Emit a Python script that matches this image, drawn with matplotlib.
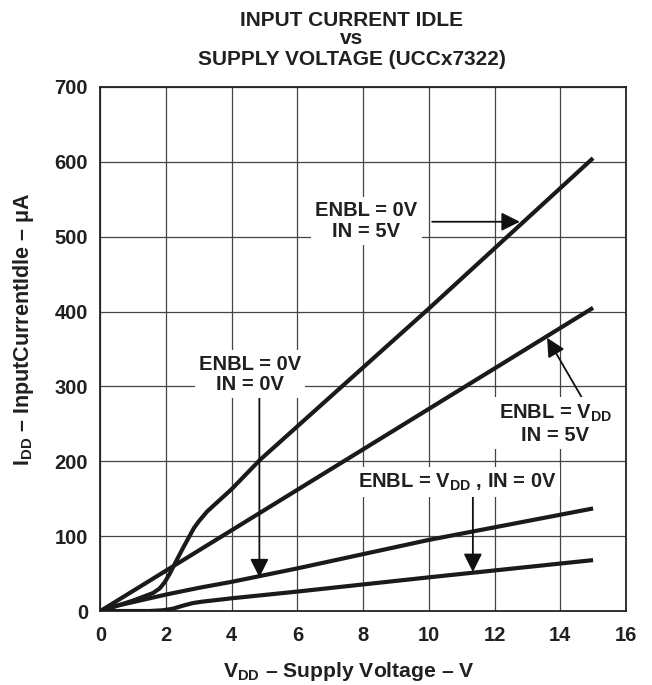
import numpy as np
import matplotlib
matplotlib.use('Agg')
import matplotlib.pyplot as plt

# curves (VDD in V, IDD in uA)
vdd_a = [0, 0.5, 1.0, 1.3, 1.6, 1.8, 1.95, 2.1, 2.3, 2.5, 2.7, 2.85, 3.0, 3.25, 3.5, 4.0, 4.86, 10.0, 15.0]
idd_a = [0, 7, 14, 19, 24, 30, 38, 49, 66, 83, 99, 111, 120, 133, 143, 163, 202, 404, 605]   # ENBL=0V, IN=5V

vdd_b = [0, 15.0]
idd_b = [0, 405]                                                      # ENBL=VDD, IN=5V

vdd_c = [0, 0.5, 1.0, 1.5, 2.0, 3.0, 4.0, 6.0, 10.0, 15.0]
idd_c = [0, 7, 12, 17, 22, 31, 39, 57, 95, 137]                       # ENBL=0V, IN=0V

vdd_d = [0, 1.5, 1.9, 2.2, 2.5, 2.8, 3.1, 3.5, 4.0, 6.0, 10.0, 15.0]
idd_d = [0, 0, 1, 3, 7, 10.5, 12.5, 14.5, 17, 26, 45, 68]             # ENBL=VDD, IN=0V

xticks = np.arange(0, 17, 2)
yticks = np.arange(0, 701, 100)
title_lines = ['INPUT CURRENT IDLE', 'vs', 'SUPPLY VOLTAGE (UCCx7322)']

txt = '#231f20'
fs = 14.5
plt.rcParams['font.family'] = ['Liberation Sans', 'DejaVu Sans']
plt.rcParams['font.weight'] = 'bold'
plt.rcParams['mathtext.fontset'] = 'custom'
plt.rcParams['mathtext.rm'] = 'Liberation Sans:bold'
plt.rcParams['mathtext.bf'] = 'Liberation Sans:bold'
plt.rcParams['mathtext.default'] = 'rm'

fig = plt.figure(figsize=(6.52, 6.85), dpi=100)
ax = fig.add_axes([0.154, 0.108, 0.806, 0.765])

for x, y in [(vdd_a, idd_a), (vdd_b, idd_b), (vdd_c, idd_c), (vdd_d, idd_d)]:
    ax.plot(x, y, color='#1a1a1a', lw=3, solid_capstyle='butt', solid_joinstyle='round', zorder=3)

ax.set_xlim(0, 16)
ax.set_ylim(0, 700)
ax.set_xticks(xticks)
ax.set_yticks(yticks)
ax.set_xticklabels([str(v) for v in xticks], fontweight='bold')
ax.set_yticklabels([str(v) for v in yticks], fontweight='bold')
ax.tick_params(length=0, labelsize=fs, labelcolor=txt)
ax.tick_params(axis='x', pad=11)
ax.tick_params(axis='y', pad=9)
ax.grid(True, color='#444444', lw=0.9)
for s in ax.spines.values():
    s.set_linewidth(1.3)
    s.set_color('#222222')

# axis labels and title placed in figure pixels as in the reference
fig.text(349 / 652, 1 - 677 / 685, r'V$_{DD}$ – Supply Voltage – V', fontsize=15.2,
         fontweight='bold', color=txt, ha='center', va='baseline')
fig.text(24 / 652, 1 - 329 / 685, r'I$_{DD}$ – InputCurrentIdle – μA', fontsize=15.5,
         fontweight='bold', color=txt, ha='center', va='center', rotation=90)
for line, base in zip(title_lines, [26, 44, 65]):
    fig.text(352 / 652, 1 - base / 685, line, fontsize=15, fontweight='bold',
             color=txt, ha='center', va='baseline')

box = dict(facecolor='white', edgecolor='none', pad=3)
arrow = dict(arrowstyle='-|>', color='#111111', lw=1.3, mutation_scale=28, shrinkA=0, shrinkB=0)

ax.annotate('', xy=(12.77, 520), xytext=(10.1, 520), arrowprops=arrow, zorder=4)
ax.text(8.1, 521, 'ENBL = 0V\nIN = 5V', ha='center', va='center', fontsize=fs,
        fontweight='bold', color=txt, bbox=box, linespacing=1.1, zorder=5)

ax.annotate('', xy=(13.6, 365), xytext=(14.7, 282), arrowprops=arrow, zorder=4)
ax.text(13.85, 250, 'ENBL = V$_{DD}$\nIN = 5V', ha='center', va='center', fontsize=fs,
        fontweight='bold', color=txt, bbox=box, linespacing=1.1, zorder=5)

ax.annotate('', xy=(4.84, 45), xytext=(4.84, 289), arrowprops=arrow, zorder=4)
ax.text(4.55, 316, 'ENBL = 0V\nIN = 0V', ha='center', va='center', fontsize=fs,
        fontweight='bold', color=txt, bbox=box, linespacing=1.1, zorder=5)

ax.annotate('', xy=(11.34, 52), xytext=(11.34, 158), arrowprops=arrow, zorder=4)
ax.text(10.85, 172, 'ENBL = V$_{DD}$ , IN = 0V', ha='center', va='center', fontsize=fs,
        fontweight='bold', color=txt, bbox=box, zorder=5)

fig.savefig('out.png', dpi=100)
